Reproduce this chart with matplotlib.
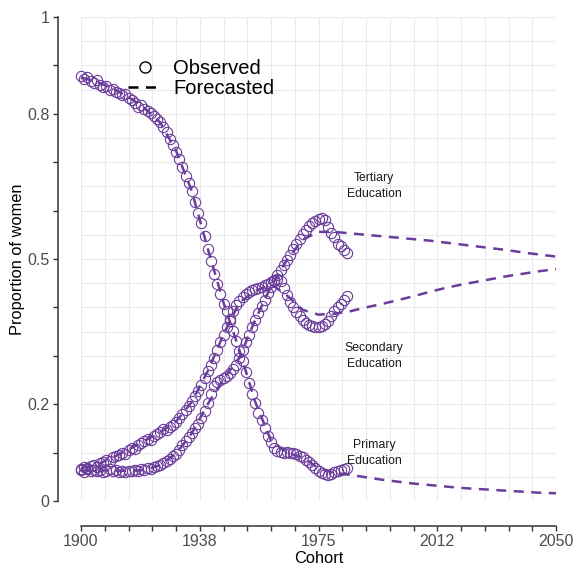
import numpy as np
import matplotlib.pyplot as plt
from matplotlib.lines import Line2D

plt.rcParams['font.family'] = ['Liberation Sans', 'DejaVu Sans']

PURPLE = '#6A3D9A'

# observed cohorts
years_obs = list(range(1900, 1985))

primary_obs = [
    0.878, 0.872, 0.876, 0.868, 0.864, 0.869, 0.860, 0.856, 0.858, 0.850,
    0.852, 0.846, 0.843, 0.838, 0.840, 0.832, 0.829, 0.822, 0.815, 0.818,
    0.810, 0.806, 0.802, 0.796, 0.790, 0.783, 0.772, 0.762, 0.748, 0.735,
    0.722, 0.706, 0.690, 0.672, 0.657, 0.640, 0.618, 0.596, 0.575, 0.548,
    0.520, 0.495, 0.468, 0.448, 0.428, 0.408, 0.392, 0.372, 0.352, 0.330,
    0.310, 0.290, 0.266, 0.244, 0.222, 0.202, 0.182, 0.168, 0.150, 0.135,
    0.122, 0.110, 0.104, 0.102, 0.100, 0.101, 0.099, 0.100, 0.097, 0.094,
    0.090, 0.085, 0.080, 0.074, 0.068, 0.062, 0.058, 0.055, 0.054, 0.056,
    0.060, 0.063, 0.065, 0.067, 0.068,
]

secondary_obs = [
    0.066, 0.070, 0.068, 0.072, 0.074, 0.071, 0.078, 0.080, 0.084, 0.082,
    0.090, 0.093, 0.096, 0.100, 0.098, 0.106, 0.110, 0.108, 0.116, 0.120,
    0.124, 0.128, 0.126, 0.134, 0.138, 0.142, 0.148, 0.146, 0.152, 0.158,
    0.164, 0.172, 0.180, 0.188, 0.196, 0.206, 0.216, 0.228, 0.240, 0.254,
    0.268, 0.282, 0.296, 0.312, 0.328, 0.344, 0.360, 0.376, 0.392, 0.405,
    0.414, 0.422, 0.428, 0.432, 0.436, 0.438, 0.440, 0.442, 0.446, 0.448,
    0.452, 0.456, 0.458, 0.454, 0.440, 0.425, 0.412, 0.400, 0.390, 0.382,
    0.374, 0.368, 0.364, 0.362, 0.360, 0.360, 0.362, 0.366, 0.372, 0.382,
    0.392, 0.400, 0.408, 0.416, 0.424,
]

tertiary_obs = [
    0.064, 0.060, 0.066, 0.062, 0.065, 0.061, 0.064, 0.060, 0.063, 0.066,
    0.061, 0.064, 0.060, 0.062, 0.059, 0.063, 0.061, 0.064, 0.062, 0.066,
    0.064, 0.068, 0.066, 0.070, 0.072, 0.075, 0.078, 0.082, 0.086, 0.092,
    0.098, 0.106, 0.116, 0.124, 0.132, 0.140, 0.150, 0.160, 0.172, 0.186,
    0.202, 0.222, 0.238, 0.246, 0.250, 0.254, 0.258, 0.264, 0.272, 0.282,
    0.296, 0.312, 0.328, 0.344, 0.360, 0.374, 0.388, 0.402, 0.416, 0.430,
    0.443, 0.455, 0.466, 0.478, 0.488, 0.498, 0.508, 0.520, 0.532, 0.542,
    0.552, 0.560, 0.568, 0.574, 0.578, 0.582, 0.584, 0.580, 0.566, 0.554,
    0.545, 0.530, 0.526, 0.518, 0.512,
]

# fitted + forecasted proportions, every 5 years
years_fc = list(range(1900, 2051, 5))

primary_fc = [
    0.875, 0.866, 0.852, 0.835, 0.812, 0.782, 0.724, 0.640, 0.522, 0.410,
    0.312, 0.205, 0.125, 0.100, 0.090, 0.068, 0.058, 0.054, 0.049, 0.044,
    0.040, 0.036, 0.033, 0.030, 0.027, 0.025, 0.023, 0.021, 0.019, 0.017,
    0.016,
]

secondary_fc = [
    0.068, 0.075, 0.090, 0.106, 0.124, 0.142, 0.164, 0.205, 0.268, 0.344,
    0.410, 0.434, 0.448, 0.425, 0.395, 0.385, 0.387, 0.392, 0.400, 0.407,
    0.415, 0.423, 0.432, 0.440, 0.447, 0.453, 0.459, 0.465, 0.470, 0.475,
    0.479,
]

tertiary_fc = [
    0.063, 0.063, 0.063, 0.062, 0.064, 0.074, 0.098, 0.140, 0.200, 0.252,
    0.296, 0.374, 0.443, 0.498, 0.540, 0.556, 0.556, 0.553, 0.550, 0.547,
    0.544, 0.541, 0.538, 0.534, 0.530, 0.526, 0.522, 0.518, 0.513, 0.509,
    0.505,
]

labels = [("Tertiary\nEducation", 1992.5, 0.65),
          ("Secondary\nEducation", 1992.5, 0.30),
          ("Primary\nEducation", 1992.5, 0.10)]

fig = plt.figure(figsize=(5.74, 5.67), dpi=100)
ax = fig.add_axes([81 / 574, 1 - 501 / 567, 475 / 574, 484 / 567])

# light grid
for gx in np.arange(1900, 2050.1, 7.5):
    ax.axvline(gx, color='#ebebeb', lw=0.8, zorder=0)
for gy in np.arange(0, 1.001, 0.05):
    ax.axhline(gy, color='#ebebeb', lw=0.8, zorder=0)

for obs, fc in [(primary_obs, primary_fc), (secondary_obs, secondary_fc),
                (tertiary_obs, tertiary_fc)]:
    ax.plot(years_fc, fc, color=PURPLE, lw=1.8, dashes=(4, 3), zorder=2,
            clip_on=False)
    ax.plot(years_obs, obs, 'o', mfc='none', mec=PURPLE, ms=7.4, mew=0.8,
            zorder=3, clip_on=False)

for txt, x, y in labels:
    ax.text(x, y, txt, ha='center', va='center', fontsize=8.8,
            linespacing=1.45, color='#1a1a1a')

ax.set_xlim(1900, 2050)
ax.set_ylim(0, 1)

ax.set_xticks([1900, 1937.5, 1975, 2012.5, 2050])
ax.set_xticklabels(["1900", "1938", "1975", "2012", "2050"])
ax.set_xticks(np.arange(1900, 2050.1, 7.5), minor=True)
ax.set_yticks([0, 0.2, 0.5, 0.8, 1])
ax.set_yticklabels(["0", "0.2", "0.5", "0.8", "1"])
ax.set_yticks(np.arange(0, 1.01, 0.1), minor=True)

ax.tick_params(which='both', length=3.6, width=1, color='#333333',
               labelsize=11.5, labelcolor='#4d4d4d', pad=2.5)

for s in ['top', 'right']:
    ax.spines[s].set_visible(False)
ax.spines['left'].set_position(('outward', 16.5))
ax.spines['bottom'].set_position(('outward', 18))
for s in ['left', 'bottom']:
    ax.spines[s].set_linewidth(1.1)
    ax.spines[s].set_color('#333333')

ax.set_xlabel("Cohort", fontsize=11.8, labelpad=1)
ax.set_ylabel("Proportion of women", fontsize=11.8, labelpad=1.5)

handles = [Line2D([], [], ls='none', marker='o', mfc='none', mec='black',
                  ms=8, mew=1),
           Line2D([], [], color='black', lw=1.8, dashes=(4, 3))]
ax.legend(handles, ["Observed", "Forecasted"], loc='upper left',
          bbox_to_anchor=(128 / 574, 1 - 59 / 567),
          bbox_transform=fig.transFigure, frameon=False, fontsize=14.5,
          handlelength=1.7, handletextpad=0.55, labelspacing=0.05,
          borderpad=0, borderaxespad=0)

fig.savefig("out.png", dpi=100)
